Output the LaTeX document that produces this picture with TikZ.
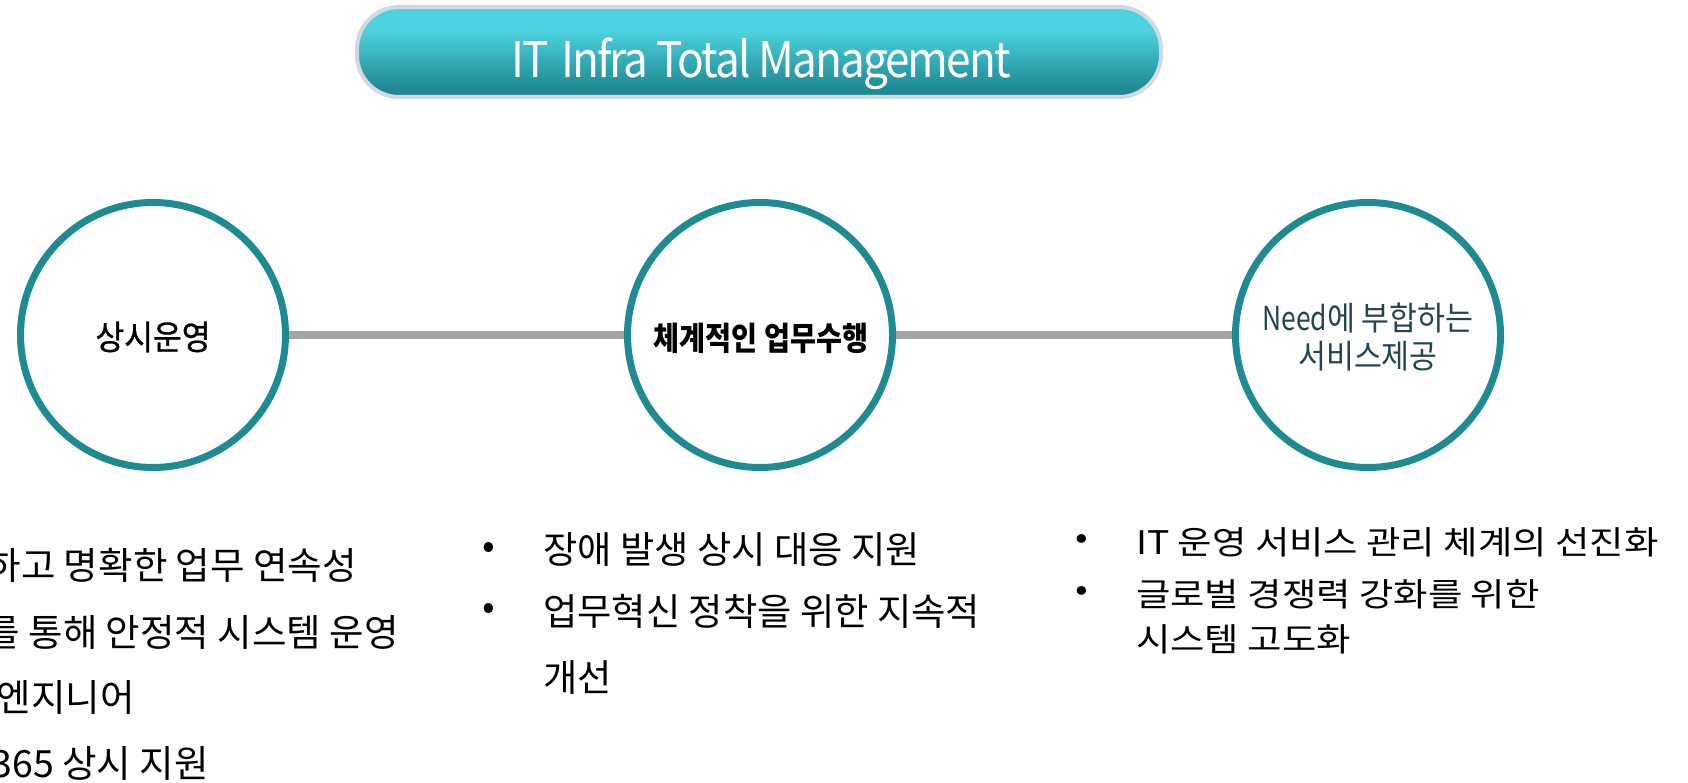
\documentclass[tikz,border=0pt]{standalone}
\usepackage{fontspec}
\setmainfont{Noto Sans CJK KR}
\newfontfamily\krfont{Noto Sans CJK KR}
\newfontfamily\circfont[FakeStretch=0.92]{Noto Sans CJK KR}
\newfontfamily\circcondfont[FakeStretch=0.87]{Noto Sans CJK KR}
\newfontfamily\needfont[FakeStretch=0.8]{Noto Sans CJK KR}
\newfontfamily\circmedfont[FakeStretch=0.92,FakeBold=0.8]{Noto Sans CJK KR}
\newfontfamily\titlefont[FakeStretch=0.9,LetterSpace=-4]{Noto Sans CJK KR}
\newfontfamily\widefont[FakeStretch=1.15]{Noto Sans CJK KR}
\definecolor{ringteal}{HTML}{1E8A92}
\definecolor{blight}{HTML}{4CD2DE}
\definecolor{bdark}{HTML}{1F8A93}
\definecolor{bborder}{HTML}{D3D9E4}
\definecolor{linegray}{HTML}{A5A5A5}
\definecolor{slate}{HTML}{22464F}
\pgfdeclareverticalshading{bannershade}{100bp}{color(0bp)=(bdark); color(30bp)=(bdark); color(62bp)=(blight); color(100bp)=(blight)}
\begin{document}
\begin{tikzpicture}[x=1pt,y=-1pt,
  ring/.style={circle, draw=ringteal, line width=7pt, minimum size=265pt, inner sep=0pt, fill=white},
  conn/.style={draw=linegray, line width=8pt},
  ringlabel/.style={inner sep=0pt, align=center, font=\circfont\fontsize{34}{39}\selectfont},
  titletext/.style={inner sep=0pt, text=white, font=\titlefont\fontsize{49}{56}\selectfont},
  dotA/.style={inner sep=0pt, font=\krfont\fontsize{37.3}{44}\selectfont},
  itemA/.style={inner sep=0pt, anchor=west, font=\krfont\fontsize{37.3}{44}\selectfont},
  itemL/.style={inner sep=0pt, anchor=east, font=\krfont\fontsize{37.5}{44}\selectfont},
  dotB/.style={inner sep=0pt, font=\widefont\fontsize{32.5}{40}\selectfont},
  itemB/.style={inner sep=0pt, anchor=west, font=\widefont\fontsize{32.5}{40}\selectfont}]
\useasboundingbox (0,0) rectangle (1688,783);
\fill[white] (0,0) rectangle (1688,783);
% banner
\path[draw=bborder, line width=4pt, rounded corners=42pt, shading=bannershade] (357,7) rectangle (1161,97);
\node[titletext, anchor=base] (title) at (761,78) {IT\hspace{5pt} Infra Total Management};
% circles
\node[ring] (c1) at (153,335) {};
\node[ring] (c2) at (760,335) {};
\node[ring] (c3) at (1368,335) {};
\draw[conn] (c1.east) -- (c2.west);
\draw[conn] (c2.east) -- (c3.west);
\node[ringlabel, font=\circmedfont\fontsize{34}{39}\selectfont] (l1) at (153,337) {상시운영};
\node[ringlabel, font=\circcondfont\fontsize{32.5}{39}\selectfont] (l2) at (761,338) {\bfseries 체계적인 업무수행};
\node[ringlabel, text=slate, font=\circfont\fontsize{33}{38}\selectfont] (l3) at (1368,337) {{\needfont Need}에 부합하는\\서비스제공};
% column 1 (clipped at the left edge)
\node[itemL] (t11) at (357,565) {하고 명확한 업무 연속성};
\node[itemL] (t12) at (399,632) {를 통해 안정적 시스템 운영};
\node[itemL] (t13) at (135,697) {엔지니어};
\node[itemL] (t14) at (209,763) {365 상시 지원};
% column 2
\node[dotA] (b21) at (489,550) {•};
\node[dotA] (b22) at (489,611) {•};
\node[itemA] (t21) at (543,550) {장애 발생 상시 대응 지원};
\node[itemA] (t22) at (543,611) {업무혁신 정착을 위한 지속적};
\node[itemA] (t23) at (543,678) {개선};
% column 3
\node[dotB] (b31) at (1082,542) {•};
\node[dotB] (b32) at (1082,594) {•};
\node[itemB] (t31) at (1136,542) {IT 운영 서비스 관리 체계의 선진화};
\node[itemB] (t32) at (1136,594) {글로벌 경쟁력 강화를 위한};
\node[itemB] (t33) at (1136,639) {시스템 고도화};
\end{tikzpicture}
\end{document}
